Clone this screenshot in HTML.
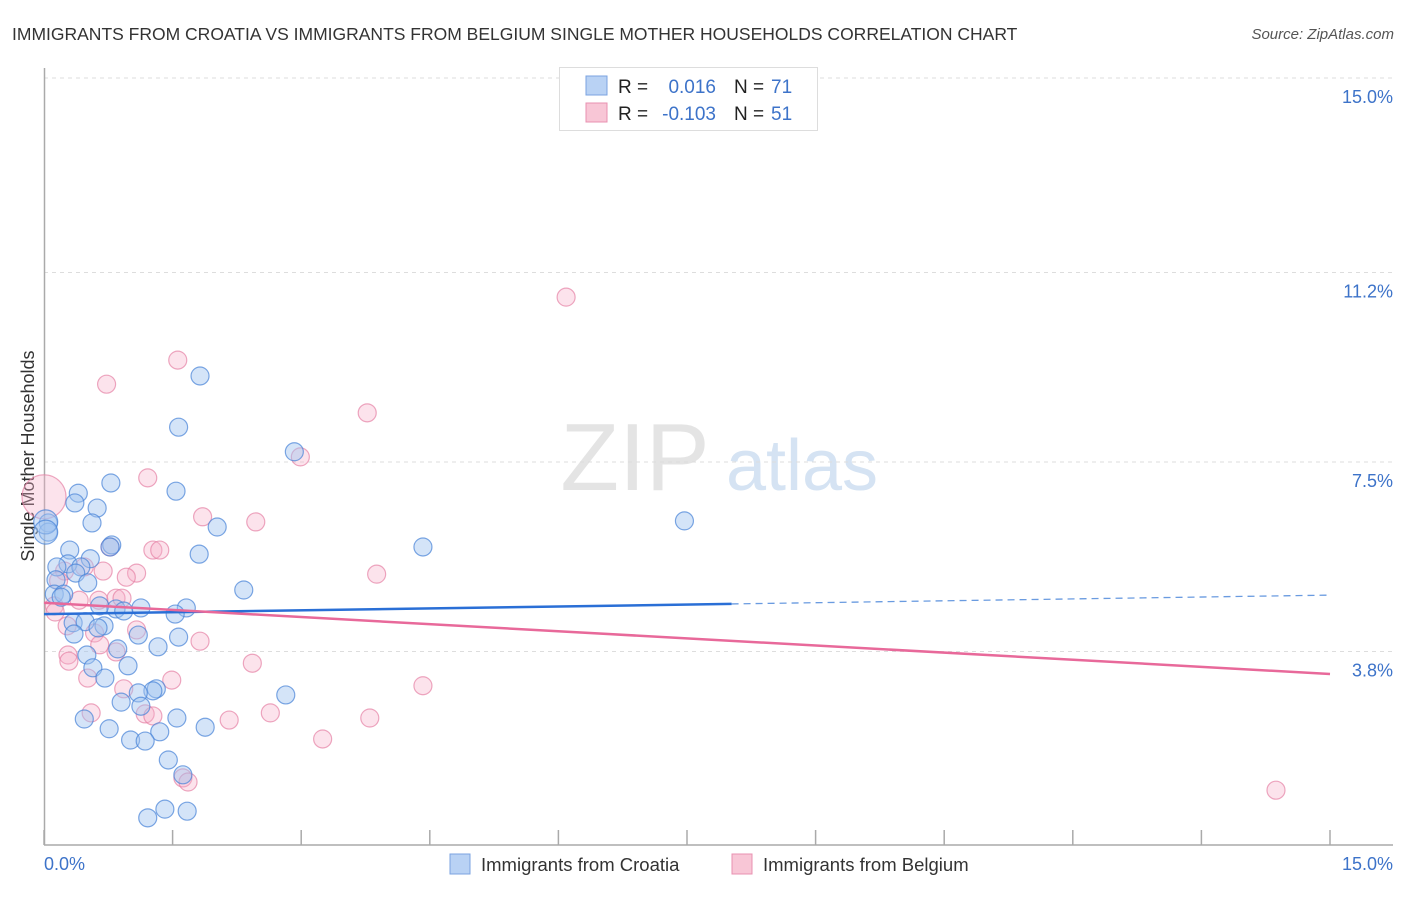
<!DOCTYPE html>
<html><head><meta charset="utf-8"><style>
body{margin:0;background:#fff;font-family:"Liberation Sans",sans-serif;}
svg text{font-family:"Liberation Sans",sans-serif;}
</style></head><body>
<svg id="chart" width="1406" height="892" xmlns="http://www.w3.org/2000/svg">
<text x="12" y="40" font-size="17.5" fill="#333">IMMIGRANTS FROM CROATIA VS IMMIGRANTS FROM BELGIUM SINGLE MOTHER HOUSEHOLDS CORRELATION CHART</text>
<text x="1394" y="39" font-size="15" fill="#555" font-style="italic" text-anchor="end">Source: ZipAtlas.com</text>
<g>
<text x="635" y="490" font-size="96" fill="#e4e4e4" font-family="Liberation Serif" text-anchor="middle" font-family="Liberation Serif">ZIP</text>
<text x="802" y="490" font-size="72" fill="#d5e3f3" text-anchor="middle">atlas</text>
</g>
<g id="grid"></g>
<g id="axes"></g>
<text x="34" y="456" font-size="18" fill="#333" text-anchor="middle" transform="rotate(-90 34 456)">Single Mother Households</text>
<text x="44" y="870" font-size="18" fill="#3d73c9">0.0%</text>
<text x="1393" y="870" font-size="18" fill="#3d73c9" text-anchor="end">15.0%</text>
<g id="pts"></g>
<g id="lines"></g>
<g>
<rect x="559.5" y="67.5" width="258" height="63" fill="#fff" stroke="#ddd"/>
<rect x="586" y="76" width="21" height="19" fill="#b9d2f4" stroke="#7ba3e0"/>
<rect x="586" y="103" width="21" height="19" fill="#f8c6d6" stroke="#e890b0"/>
<text x="618" y="93" font-size="19" fill="#222">R =</text>
<text x="716" y="93" font-size="19" fill="#3d73c9" text-anchor="end">0.016</text>
<text x="734" y="93" font-size="19" fill="#222">N =</text>
<text x="771" y="93" font-size="19" fill="#3d73c9">71</text>
<text x="618" y="120" font-size="19" fill="#222">R =</text>
<text x="716" y="120" font-size="19" fill="#3d73c9" text-anchor="end">-0.103</text>
<text x="734" y="120" font-size="19" fill="#222">N =</text>
<text x="771" y="120" font-size="19" fill="#3d73c9">51</text>
</g>
<g>
<rect x="450" y="854" width="20" height="20" fill="#b9d2f4" stroke="#7ba3e0"/>
<text x="481" y="871" font-size="18.5" fill="#333">Immigrants from Croatia</text>
<rect x="732" y="854" width="20" height="20" fill="#f8c6d6" stroke="#e890b0"/>
<text x="763" y="871" font-size="18.5" fill="#333">Immigrants from Belgium</text>
</g>
</svg>
<script>
const yTicks=[15.0,11.2,7.5,3.8];
const yTickLabels=["15.0%","11.2%","7.5%","3.8%"];
const xTicks=[0,1.5,3,4.5,6,7.5,9,10.5,12,13.5,15];
const croatiaX=[1.82,1.57,2.92,1.54,0.78,0.40,0.36,0.62,0.56,2.02,0.05,0.05,7.47,4.42,0.79,0.77,0.30,1.81,0.54,0.28,0.15,0.43,0.37,0.14,0.51,2.33,0.12,0.23,0.20,0.65,0.84,0.93,1.13,1.66,1.53,0.34,0.48,0.70,0.63,1.10,1.57,0.35,1.33,0.86,0.50,0.57,0.98,0.71,2.82,1.31,1.27,1.10,0.90,1.13,1.55,0.47,1.88,0.76,1.35,1.01,1.18,1.45,1.62,1.41,1.67,1.21];
const croatiaY=[9.18,8.18,7.70,6.93,7.09,6.89,6.70,6.60,6.31,6.23,6.31,6.13,6.35,5.84,5.88,5.84,5.78,5.70,5.61,5.51,5.45,5.45,5.33,5.20,5.14,5.00,4.92,4.92,4.86,4.69,4.63,4.59,4.65,4.65,4.53,4.36,4.38,4.30,4.26,4.12,4.08,4.14,3.89,3.85,3.73,3.48,3.52,3.28,2.95,3.07,3.03,2.99,2.81,2.73,2.50,2.48,2.32,2.29,2.23,2.07,2.05,1.68,1.39,0.72,0.68,0.55];
const belgiumX=[6.09,1.56,0.73,3.77,2.99,1.21,1.85,2.47,0.77,1.27,1.35,3.88,1.08,0.96,0.47,0.69,0.24,0.17,0.12,0.41,0.64,0.84,0.91,0.13,0.27,1.08,0.59,1.82,0.65,0.84,0.28,0.29,2.43,1.49,0.51,0.93,4.42,0.55,1.18,1.27,2.64,2.16,3.80,3.25,1.62,1.68,14.37];
const belgiumY=[10.72,9.49,9.02,8.46,7.60,7.19,6.43,6.33,5.84,5.78,5.78,5.31,5.33,5.25,5.45,5.37,5.37,5.18,4.69,4.80,4.80,4.84,4.84,4.57,4.30,4.22,4.16,4.00,3.93,3.79,3.73,3.61,3.57,3.24,3.28,3.07,3.13,2.60,2.58,2.54,2.60,2.46,2.50,2.09,1.33,1.25,1.09];
const bigBlueX=[0.02,0.02];const bigBlueY=[6.33,6.13];
const bigPinkX=[0.0];const bigPinkY=[6.82];
const croatiaTrend=[4.53,4.90];const croatiaSolidEnd=8.02;
const belgiumTrend=[4.75,3.36];
const NS="http://www.w3.org/2000/svg";
const X=v=>44+v*(1330-44)/15;
const Y=v=>78+(15-v)*51.2;
function mk(tag,attrs,parent){const e=document.createElementNS(NS,tag);for(const k in attrs)e.setAttribute(k,attrs[k]);parent.appendChild(e);return e;}
const grid=document.getElementById('grid'),axes=document.getElementById('axes'),pts=document.getElementById('pts'),lines=document.getElementById('lines');
yTicks.forEach((t,i)=>{
 const l=mk('line',{x1:44,x2:1393,y1:Y(t),y2:Y(t),stroke:'#ddd','stroke-dasharray':'4,4'},grid);
 
 
 const tx=mk('text',{x:1393,y:Y(t)+25,'font-size':18,fill:'#3d73c9','text-anchor':'end'},grid);
 tx.textContent=yTickLabels[i];
 
 
});
mk('line',{x1:44.5,x2:44.5,y1:68,y2:845,stroke:'#aaa','stroke-width':1.5},axes);
mk('line',{x1:44,x2:1393,y1:845,y2:845,stroke:'#aaa','stroke-width':1.5},axes);
xTicks.forEach(t=>{
 const l=mk('line',{x1:X(t),x2:X(t),y1:830,y2:845,stroke:'#aaa','stroke-width':1.5},axes);
 
 
});
function dot(x,y,r,blue){
 const c=mk('circle',{cx:X(x),cy:Y(y),r:r,fill:blue?'rgba(160,195,240,0.45)':'rgba(245,175,200,0.35)',stroke:blue?'rgba(70,130,215,0.7)':'rgba(230,130,165,0.7)','stroke-width':1.2},pts);
 
 
}
bigPinkX.forEach((x,i)=>dot(x,bigPinkY[i],22,false));
belgiumX.forEach((x,i)=>dot(x,belgiumY[i],9,false));
croatiaX.forEach((x,i)=>dot(x,croatiaY[i],9,true));
bigBlueX.forEach((x,i)=>dot(x,bigBlueY[i],12,true));
const slope=(croatiaTrend[1]-croatiaTrend[0])/15;
let l1=mk('line',{x1:X(0),y1:Y(croatiaTrend[0]),x2:X(croatiaSolidEnd),y2:Y(croatiaTrend[0]+slope*croatiaSolidEnd),stroke:'#2a6fd6','stroke-width':2.5},lines);


let l2=mk('line',{x1:X(croatiaSolidEnd),y1:Y(croatiaTrend[0]+slope*croatiaSolidEnd),x2:X(15),y2:Y(croatiaTrend[1]),stroke:'#6a9be0','stroke-width':1.3,'stroke-dasharray':'7,5'},lines);


let l3=mk('line',{x1:X(0),y1:Y(belgiumTrend[0]),x2:X(15),y2:Y(belgiumTrend[1]),stroke:'#e8699a','stroke-width':2.5},lines);


</script>
</body></html>
